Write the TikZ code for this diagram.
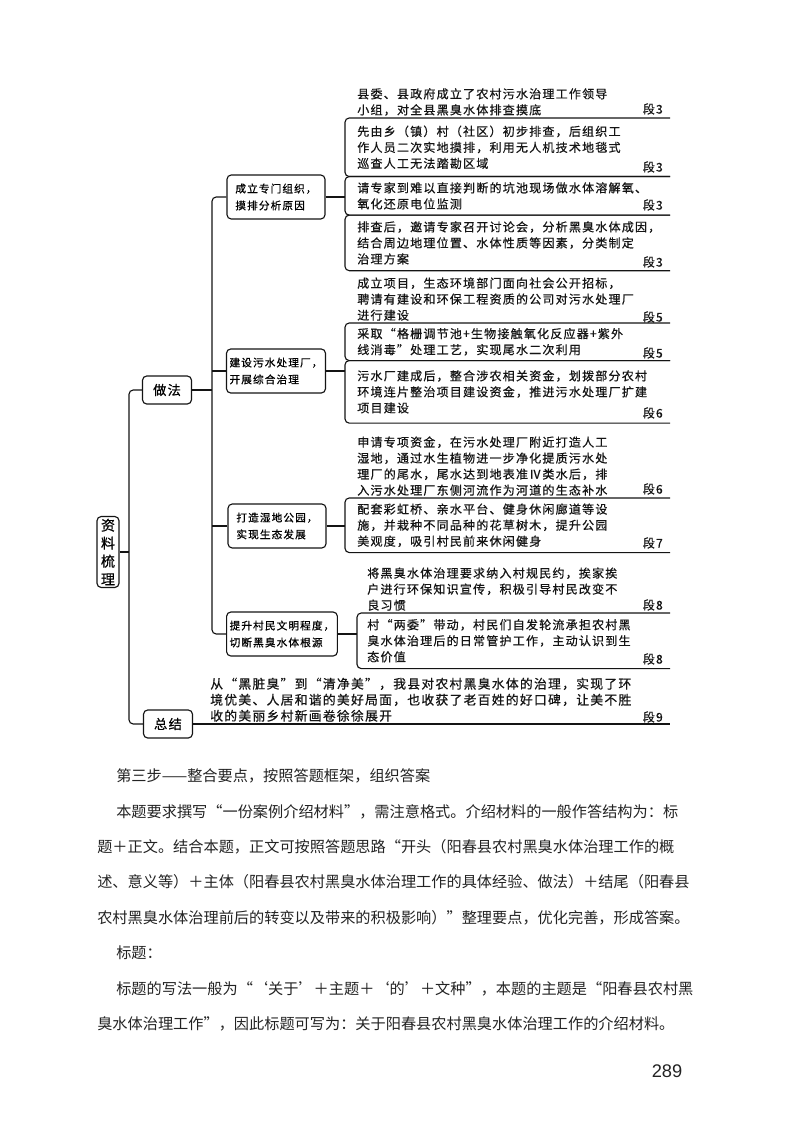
\documentclass[tikz,border=0pt]{standalone}
\usepackage{fontspec}
\usepackage{tikz}
\usetikzlibrary{positioning,calc}
\setmainfont{Noto Sans CJK SC}
\newfontfamily\treefont[LetterSpace=10,FakeBold=0.6]{Noto Sans CJK SC}
\newfontfamily\pagefont{Liberation Sans}
\newdimen\pxl \pxl=0.025cm
\definecolor{ink}{RGB}{20,20,20}
\definecolor{bodyink}{RGB}{35,35,35}

\begin{document}
\begin{tikzpicture}[x=0.025cm, y=-0.025cm,
    link/.style={draw=ink, line width=0.8pt, rounded corners=3pt},
    rootbox/.style={draw=ink, line width=0.8pt, rounded corners=3pt, align=center, inner sep=1pt,
      minimum width=22\pxl, minimum height=71\pxl, font=\treefont\fontsize{10pt}{12.8pt}\selectfont},
    headbox/.style={draw=ink, line width=0.8pt, rounded corners=3pt, minimum width=49\pxl,
      minimum height=28\pxl, font=\treefont\fontsize{9.4pt}{12pt}\selectfont},
    midbox/.style={draw=ink, line width=0.8pt, rounded corners=3pt, align=left, minimum width=98\pxl,
      minimum height=44\pxl, inner xsep=3\pxl, inner ysep=2pt, font=\treefont\fontsize{7.6pt}{12pt}\selectfont},
    note/.style={align=left, text width=300\pxl, inner xsep=12\pxl, inner ysep=2\pxl, text=ink,
      font=\treefont\fontsize{8.55pt}{11.4pt}\selectfont},
    duan/.style={anchor=east, inner sep=0pt, text=ink, font=\treefont\fontsize{8.55pt}{11.4pt}\selectfont},
    bodytext/.style={anchor=north west, align=left, inner sep=0pt, text=bodyink,
      font=\fontsize{10.8pt}{25.2pt}\selectfont},
  ]
  \path[use as bounding box, fill=white] (0,0) rectangle (800,1129);

  \node[rootbox] (root) at (108,552) {资\\料\\梳\\理};
  \node[headbox] (zuofa) at (167,390) {做法};
  \node[headbox] (zongjie) at (168,724) {总结};

  \node[midbox] (org) at (276,197) {成立专门组织，\\摸排分析原因};
  \node[midbox] (plant) at (276,371) {建设污水处理厂，\\开展综合治理};
  \node[midbox] (park) at (277,526) {打造湿地公园，\\实现生态发展};
  \node[midbox, minimum width=109\pxl] (civil) at (282,634) {提升村民文明程度，\\切断黑臭水体根源};

  \coordinate (trunkA) at (129,0);
  \coordinate (trunkB) at (212,0);
  \coordinate (rim) at (670,0);

  \node[note, anchor=south west] (g1a) at (345,118) {县委、县政府成立了农村污水治理工作领导\\小组，对全县黑臭水体排查摸底};
  \node[note, anchor=north west, minimum height=58\pxl] (g1b) at (345,118) {先由乡（镇）村（社区）初步排查，后组织工\\作人员二次实地摸排，利用无人机技术地毯式\\巡查人工无法踏勘区域};
  \node[note, anchor=north west, minimum height=38\pxl] (g1c) at (g1b.south west) {请专家到难以直接判断的坑池现场做水体溶解氧、\\氧化还原电位监测};
  \node[note, anchor=north west, minimum height=55\pxl] (g1d) at (g1c.south west) {排查后，邀请专家召开讨论会，分析黑臭水体成因，\\结合周边地理位置、水体性质等因素，分类制定\\治理方案};

  \node[note, anchor=south west] (g2a) at (345,323) {成立项目，生态环境部门面向社会公开招标，\\聘请有建设和环保工程资质的公司对污水处理厂\\进行建设};
  \node[note, anchor=north west, minimum height=37\pxl] (g2b) at (345,323) {采取“格栅调节池+生物接触氧化反应器+紫外\\线消毒”处理工艺，实现尾水二次利用};
  \node[note, anchor=north west, minimum height=62\pxl] (g2c) at (g2b.south west) {污水厂建成后，整合涉农相关资金，划拨部分农村\\环境连片整治项目建设资金，推进污水处理厂扩建\\项目建设};

  \node[note, anchor=south west] (g3a) at (345,498) {申请专项资金，在污水处理厂附近打造人工\\湿地，通过水生植物进一步净化提质污水处\\理厂的尾水，尾水达到地表准Ⅳ类水后，排\\入污水处理厂东侧河流作为河道的生态补水};
  \node[note, anchor=north west, minimum height=54\pxl] (g3b) at (345,498) {配套彩虹桥、亲水平台、健身休闲廊道等设\\施，并栽种不同品种的花草树木，提升公园\\美观度，吸引村民前来休闲健身};

  \node[note, anchor=south west, inner xsep=10\pxl] (g4a) at (357,613) {将黑臭水体治理要求纳入村规民约，挨家挨\\户进行环保知识宣传，积极引导村民改变不\\良习惯};
  \node[note, anchor=north west, inner xsep=10\pxl, minimum height=55\pxl] (g4b) at (357,613) {村“两委”带动，村民们自发轮流承担农村黑\\臭水体治理后的日常管护工作，主动认识到生\\态价值};

  \node[note, anchor=south west, text width=440\pxl, font=\treefont\fontsize{9.1pt}{11.4pt}\selectfont] (sumtext) at (198,724) {从“黑脏臭”到“清净美”，我县对农村黑臭水体的治理，实现了环\\境优美、人居和谐的美好局面，也收获了老百姓的好口碑，让美不胜\\收的美丽乡村新画卷徐徐展开};

  \foreach \b in {g1b,g1c,g1d,g2b,g2c,g3b,g4b}
    \draw[link] (\b.north west -| rim) -- (\b.north west) -- (\b.south west) -- (\b.south west -| rim);

  \draw[link] (root.east) -- (root.east -| trunkA);
  \draw[link] (zuofa.west) -- (zuofa.west -| trunkA) |- (zongjie.west);
  \draw[link] (zuofa.east) -- (zuofa.east -| trunkB);
  \draw[link] (org.west) -- (org.west -| trunkB) |- (civil.west);
  \draw[link] (plant.west) -- (plant.west -| trunkB);
  \draw[link] (park.west) -- (park.west -| trunkB);
  \draw[link] (org.east) -- (org.east -| g1c.west);
  \draw[link] (plant.east) -- (plant.east -| g2c.west);
  \draw[link] (park.east) -- (park.east -| g3b.west);
  \draw[link] (civil.east) -- (civil.east -| g4b.west);
  \draw[link] (zongjie.east) -- (zongjie.east -| rim);

  \node[duan] (d1) at (663,109) {段3};
  \node[duan] (d2) at (663,167) {段3};
  \node[duan] (d3) at (663,205) {段3};
  \node[duan] (d4) at (663,262) {段3};
  \node[duan] (d5) at (663,317) {段5};
  \node[duan] (d6) at (663,353) {段5};
  \node[duan] (d7) at (663,413) {段6};
  \node[duan] (d8) at (663,489) {段6};
  \node[duan] (d9) at (663,543) {段7};
  \node[duan] (d10) at (663,605) {段8};
  \node[duan] (d11) at (663,659) {段8};
  \node[duan] (d12) at (663,717) {段9};

  \node[bodytext] (body) at (97,768.5) {\hspace*{19\pxl}第三步——整合要点，按照答题框架，组织答案\\
    \hspace*{19\pxl}本题要求撰写“一份案例介绍材料”，需注意格式。介绍材料的一般作答结构为：标\\
    题＋正文。结合本题，正文可按照答题思路“开头（阳春县农村黑臭水体治理工作的概\\
    述、意义等）＋主体（阳春县农村黑臭水体治理工作的具体经验、做法）＋结尾（阳春县\\
    农村黑臭水体治理前后的转变以及带来的积极影响）”整理要点，优化完善，形成答案。\\
    \hspace*{19\pxl}标题：\\
    \hspace*{19\pxl}标题的写法一般为“‘关于’＋主题＋‘的’＋文种”，本题的主题是“阳春县农村黑\\
    臭水体治理工作”，因此标题可写为：关于阳春县农村黑臭水体治理工作的介绍材料。};
  \node[font=\pagefont\fontsize{13pt}{15pt}\selectfont, text=bodyink] (pageno) at (667,1071) {289};
\end{tikzpicture}
\end{document}
